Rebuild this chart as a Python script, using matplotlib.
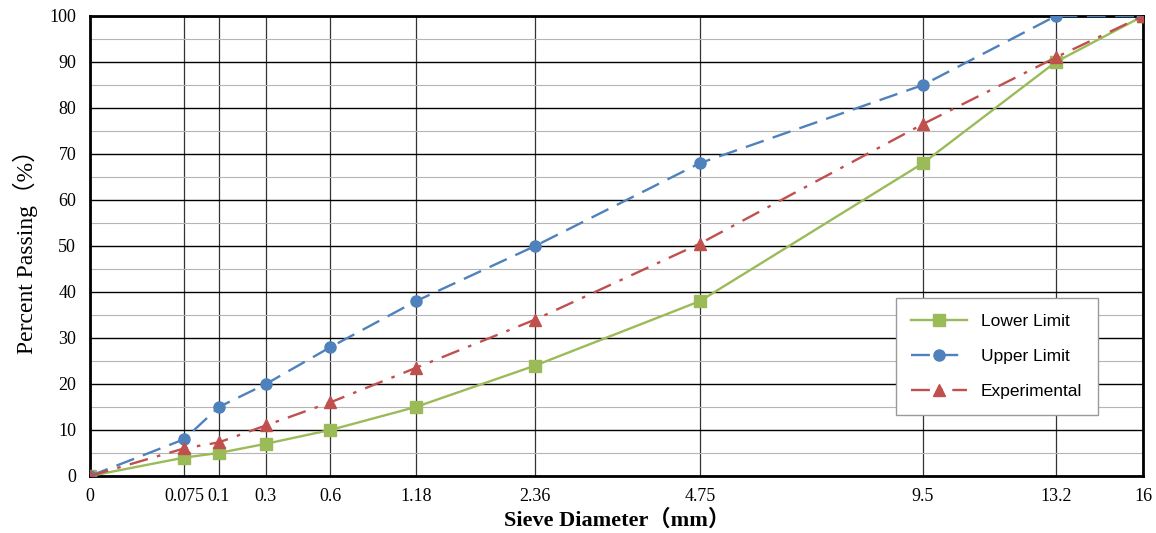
import matplotlib
matplotlib.use("Agg")
import matplotlib.pyplot as plt
import numpy as np

# sieve sizes (mm) and tick labels as printed on the chart
sieve = [0, 0.075, 0.15, 0.3, 0.6, 1.18, 2.36, 4.75, 9.5, 13.2, 16]
sieve_labels = ["0", "0.075", "0.1", "0.3", "0.6", "1.18", "2.36", "4.75", "9.5", "13.2", "16"]

lower = [0, 4, 5, 7, 10, 15, 24, 38, 68, 90, 100]
upper = [0, 8, 15, 20, 28, 38, 50, 68, 85, 100, 100]
experimental = [0, 6, 7.3, 11, 16, 23.5, 34, 50.5, 76.5, 91, 100]

# gradation chart: x axis in power 0.45 scale
def fwd(x):
    return np.power(np.clip(x, 0, None), 0.45)

def inv(x):
    return np.power(np.clip(x, 0, None), 1 / 0.45)

fig = plt.figure(figsize=(11.56, 5.33), dpi=100)
ax = fig.add_axes([0.0779, 0.107, 0.911, 0.863])
ax.set_xscale("function", functions=(fwd, inv))

ax.plot(sieve, lower, color="#9BBB59", lw=1.7, marker="s", ms=8,
        label="Lower Limit", zorder=3)
ax.plot(sieve, upper, color="#4F81BD", lw=1.7, marker="o", ms=8,
        dashes=(8, 4), label="Upper Limit", zorder=3)
ax.plot(sieve, experimental, color="#C0504D", lw=1.7, marker="^", ms=8,
        dashes=(8, 4, 1.5, 4), label="Experimental", zorder=3)

ax.set_xlim(0, 16)
ax.set_ylim(0, 100)

ax.set_xticks(sieve)
ax.set_xticklabels(sieve_labels, family="Liberation Serif", fontsize=13)
ax.set_yticks(range(0, 101, 10))
ax.set_yticks(range(5, 100, 10), minor=True)
ax.set_yticklabels([str(v) for v in range(0, 101, 10)], family="Liberation Serif", fontsize=13)
ax.tick_params(which="both", length=0)
ax.tick_params(axis="x", pad=9)
ax.tick_params(axis="y", pad=10)

ax.grid(True, axis="y", which="major", color="black", lw=1.0)
ax.grid(True, axis="y", which="minor", color="#b5b5b5", lw=0.8)
ax.grid(True, axis="x", which="major", color="#333333", lw=0.9)
ax.set_axisbelow(True)

for s in ax.spines.values():
    s.set_linewidth(2)
    s.set_color("black")

ax.set_xlabel("Sieve Diameter（mm）", family=["Liberation Serif", "Noto Sans CJK SC"],
              fontsize=16, fontweight="bold", labelpad=3)
ax.set_ylabel("Percent Passing（%）", family=["Liberation Serif", "Noto Sans CJK SC"],
              fontsize=17, labelpad=8)

leg = ax.legend(loc="lower left", bbox_to_anchor=(0.765, 0.133), borderaxespad=0,
                fancybox=False, framealpha=1, edgecolor="#999999", labelspacing=1.15,
                handlelength=3.2, borderpad=0.9, prop={"family": "Liberation Sans", "size": 12.5})
leg.get_frame().set_linewidth(1.0)

fig.savefig("out.png", dpi=100)
